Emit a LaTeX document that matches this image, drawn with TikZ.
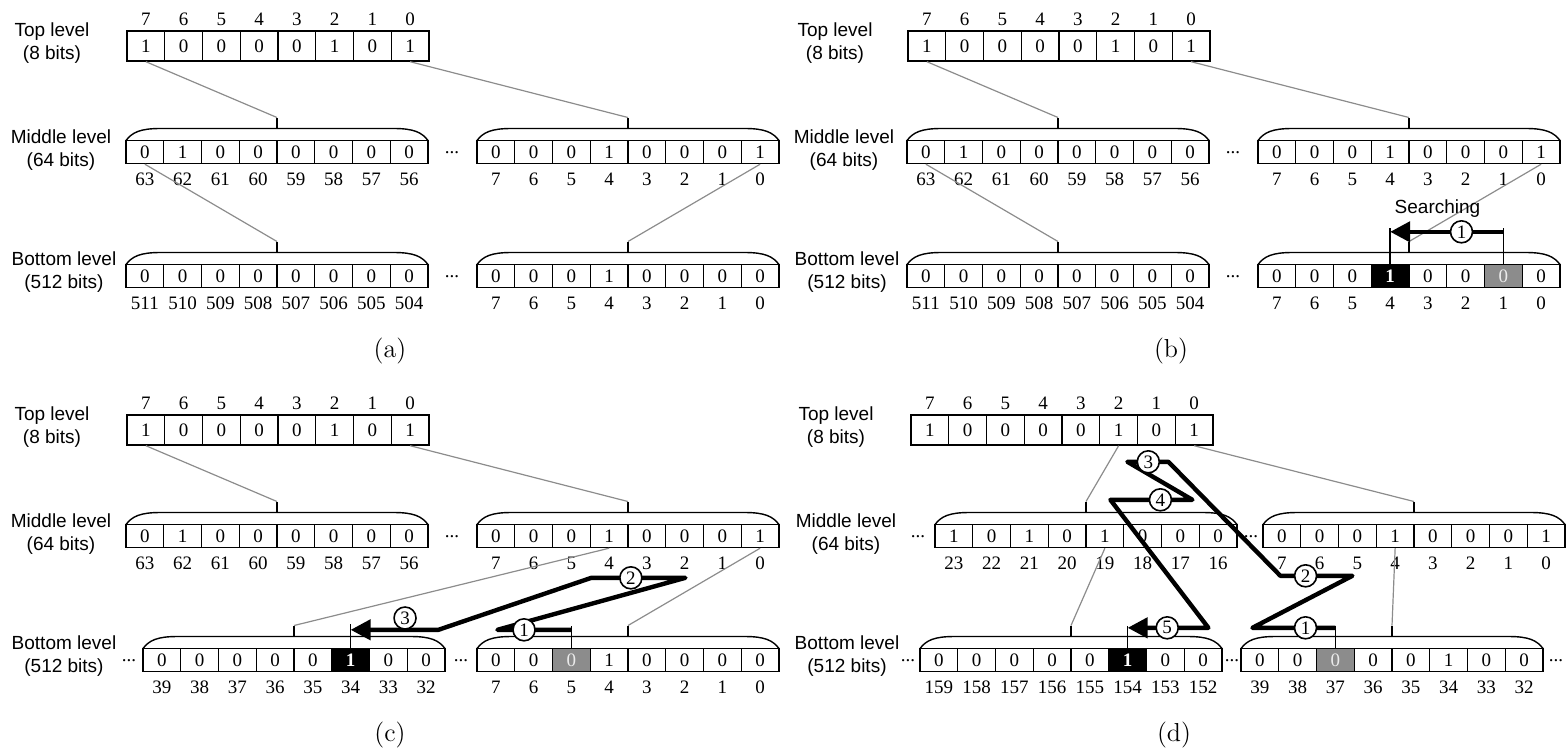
\documentclass[tikz,border=0pt]{standalone}
\usepackage{fontspec}
\usepackage{tikz}
\usetikzlibrary{arrows.meta,positioning}
\newfontfamily\numfont{Liberation Serif}
\newfontfamily\lblfont{Liberation Sans}
\newcommand\cellfont{\numfont\fontsize{9.5}{11}\selectfont}
\newcommand\sidefont{\lblfont\fontsize{9.5}{11.5}\selectfont}
\tikzset{
  cell/.style={draw,line width=.7pt,minimum width=18.875pt,minimum height=#1*.5pt,
               inner sep=0pt,font=\cellfont},
  kind/.style={bit#1},
  bitw/.style={},
  bitk/.style={fill=black,text=white,font=\cellfont\bfseries},
  bitg/.style={fill=black!45,text=black!8},
  idx/.style={inner sep=0pt,font=\cellfont},
  lvl/.style={align=center,inner sep=0pt,font=\sidefont},
  ellip/.style={inner sep=0pt,font=\cellfont},
  capline/.style={line width=.7pt},
  link/.style={draw=black!45,line width=.6pt},
  pinline/.style={line width=.7pt},
  search/.style={line width=2.2pt,line join=round,-{Triangle[length=10pt,width=10pt]}},
  stepmark/.style={circle,draw,line width=.8pt,fill=white,inner sep=0pt,
                   minimum size=11pt,font=\cellfont},
  subcap/.style={font=\fontsize{13}{15}\selectfont},
}
\newcommand{\bitrow}[6]{%
  \foreach \st/\bt/\ix [count=\kk from 0] in {#5}{%
    \node[cell=#4,kind/.expanded=\st] (#1-\kk) at ({#2+(\kk+.5)*37.75},{#3+#4/2}) {\bt};
    \node[idx] (#1-i\kk) at ([yshift=#6]#1-\kk.center) {\ix};
  }}
\newcommand{\regcap}[3]{%
  \draw[capline] ({#2},{#3}) .. controls ({#2+6},{#3-8}) and ({#2+14},{#3-12}) .. ({#2+34},{#3-12})
    -- ({#2+268},{#3-12}) .. controls ({#2+288},{#3-12}) and ({#2+296},{#3-8}) .. ({#2+302},{#3});
  \draw[capline] ({#2+151},{#3-12}) -- ({#2+151},{#3-23}) coordinate (#1-tip);
}
\newcommand{\lowrow}[4]{\regcap{#1}{#2}{#3}\bitrow{#1}{#2}{#3}{23}{#4}{-13.5pt}}

\begin{document}
\begin{tikzpicture}[x=0.5pt,y=-0.5pt]
  \useasboundingbox (0,0) rectangle (1566,752);

  \begin{scope}
    \node[lvl] (aTl) at (52,43) {Top level\\(8 bits)};
    \bitrow{aT}{127}{31}{30}{w/1/7,w/0/6,w/0/5,w/0/4,w/0/3,w/1/2,w/0/1,w/1/0}{13.5pt}
    \node[lvl] (aMl) at (61,150) {Middle level\\(64 bits)};
    \lowrow{aML}{126}{140.5}{w/0/63,w/1/62,w/0/61,w/0/60,w/0/59,w/0/58,w/0/57,w/0/56}
    \node[ellip] (aMd) at (452,153) {...};
    \lowrow{aMR}{477}{140.5}{w/0/7,w/0/6,w/0/5,w/1/4,w/0/3,w/0/2,w/0/1,w/1/0}
    \node[lvl] (aBl) at (64,272) {Bottom level\\(512 bits)};
    \lowrow{aBL}{126}{264.5}{w/0/511,w/0/510,w/0/509,w/0/508,w/0/507,w/0/506,w/0/505,w/0/504}
    \node[ellip] (aBd) at (452,277) {...};
    \lowrow{aBR}{477}{264.5}{w/0/7,w/0/6,w/0/5,w/1/4,w/0/3,w/0/2,w/0/1,w/0/0}
    \draw[link] (aT-0.south) -- (aML-tip);
    \draw[link] (aT-7.south) -- (aMR-tip);
    \draw[link] (aML-0.south) -- (aBL-tip);
    \draw[link] (aMR-7.south) -- (aBR-tip);
    \node[subcap] (acap) at (390,351) {(a)};
  \end{scope}

  \begin{scope}[shift={(781,0)}]
    \node[lvl] (bTl) at (54,43) {Top level\\(8 bits)};
    \bitrow{bT}{127}{31}{30}{w/1/7,w/0/6,w/0/5,w/0/4,w/0/3,w/1/2,w/0/1,w/1/0}{13.5pt}
    \node[lvl] (bMl) at (63,150) {Middle level\\(64 bits)};
    \lowrow{bML}{126}{140.5}{w/0/63,w/1/62,w/0/61,w/0/60,w/0/59,w/0/58,w/0/57,w/0/56}
    \node[ellip] (bMd) at (452,153) {...};
    \lowrow{bMR}{477}{140.5}{w/0/7,w/0/6,w/0/5,w/1/4,w/0/3,w/0/2,w/0/1,w/1/0}
    \node[lvl] (bBl) at (66,272) {Bottom level\\(512 bits)};
    \lowrow{bBL}{126}{264.5}{w/0/511,w/0/510,w/0/509,w/0/508,w/0/507,w/0/506,w/0/505,w/0/504}
    \node[ellip] (bBd) at (452,277) {...};
    \lowrow{bBR}{477}{264.5}{w/0/7,w/0/6,w/0/5,k/1/4,w/0/3,w/0/2,g/0/1,w/0/0}
    \draw[link] (bT-0.south) -- (bML-tip);
    \draw[link] (bT-7.south) -- (bMR-tip);
    \draw[link] (bML-0.south) -- (bBL-tip);
    \draw[link] (bMR-7.south) -- (bBR-tip);
    \draw[pinline] (bBR-6.north) -- ++(0,-36);
    \draw[pinline] (bBR-3.north) -- ++(0,-36);
    \draw[search] ([yshift=16pt]bBR-6.north) -- node[stepmark,pos=.37](bS1){1} ([yshift=16pt]bBR-3.north);
    \node[lvl,above=1pt of bS1,xshift=-12pt] (bSl) {Searching};
    \node[subcap] (bcap) at (390,351) {(b)};
  \end{scope}

  \begin{scope}[shift={(0,384)}]
    \node[lvl] (cTl) at (52,43) {Top level\\(8 bits)};
    \bitrow{cT}{127}{31}{30}{w/1/7,w/0/6,w/0/5,w/0/4,w/0/3,w/1/2,w/0/1,w/1/0}{13.5pt}
    \node[lvl] (cMl) at (61,150) {Middle level\\(64 bits)};
    \lowrow{cML}{126}{140.5}{w/0/63,w/1/62,w/0/61,w/0/60,w/0/59,w/0/58,w/0/57,w/0/56}
    \node[ellip] (cMd) at (452,153) {...};
    \lowrow{cMR}{477}{140.5}{w/0/7,w/0/6,w/0/5,w/1/4,w/0/3,w/0/2,w/0/1,w/1/0}
    \node[lvl] (cBl) at (64,272) {Bottom level\\(512 bits)};
    \node[ellip] (cBd0) at (129,277) {...};
    \lowrow{cBL}{143}{264.5}{w/0/39,w/0/38,w/0/37,w/0/36,w/0/35,k/1/34,w/0/33,w/0/32}
    \node[ellip] (cBd) at (461,277) {...};
    \lowrow{cBR}{477}{264.5}{w/0/7,w/0/6,g/0/5,w/1/4,w/0/3,w/0/2,w/0/1,w/0/0}
    \draw[link] (cT-0.south) -- (cML-tip);
    \draw[link] (cT-7.south) -- (cMR-tip);
    \draw[link] (cMR-3.south) -- (cBL-tip);
    \draw[link] (cMR-7.south) -- (cBR-tip);
    \draw[pinline] (cBR-2.north) -- ++(0,-22);
    \draw[pinline] (cBL-5.north) -- ++(0,-24);
    \draw[search] ([yshift=9pt]cBR-2.north) -- node[stepmark,pos=.64]{1} ++(-74,0)
      -- ++(188,-52) -- node[stepmark,pos=.58]{2} ++(-94,0)
      -- ++(-153,52) -- node[stepmark,above,pos=.38]{3} ([yshift=9pt]cBL-5.north);
    \node[subcap] (ccap) at (390,351) {(c)};
  \end{scope}

  \begin{scope}[shift={(784,384)}]
    \node[lvl] (dTl) at (52,43) {Top level\\(8 bits)};
    \bitrow{dT}{127}{31}{30}{w/1/7,w/0/6,w/0/5,w/0/4,w/0/3,w/1/2,w/0/1,w/1/0}{13.5pt}
    \node[lvl] (dMl) at (62,150) {Middle level\\(64 bits)};
    \node[ellip] (dMd0) at (134,153) {...};
    \lowrow{dML}{151}{140.5}{w/1/23,w/0/22,w/1/21,w/0/20,w/1/19,w/0/18,w/0/17,w/0/16}
    \node[ellip] (dMd) at (467,153) {...};
    \lowrow{dMR}{479}{140.5}{w/0/7,w/0/6,w/0/5,w/1/4,w/0/3,w/0/2,w/0/1,w/1/0}
    \node[lvl] (dBl) at (63,272) {Bottom level\\(512 bits)};
    \node[ellip] (dBd0) at (124,277) {...};
    \lowrow{dBL}{136}{264.5}{w/0/159,w/0/158,w/0/157,w/0/156,w/0/155,k/1/154,w/0/153,w/0/152}
    \node[ellip] (dBd) at (448,277) {...};
    \lowrow{dBR}{457}{264.5}{w/0/39,w/0/38,g/0/37,w/0/36,w/0/35,w/1/34,w/0/33,w/0/32}
    \node[ellip] (dBd2) at (772,277) {...};
    \draw[link] (dT-5.south) -- (dML-tip);
    \draw[link] (dT-7.south) -- (dMR-tip);
    \draw[link] (dML-4.south) -- (dBL-tip);
    \draw[link] (dMR-3.south) -- (dBR-tip);
    \draw[pinline] (dBR-2.north) -- ++(0,-22);
    \draw[pinline] (dBL-5.north) -- ++(0,-22);
    \draw[search] ([yshift=10pt]dBR-2.north) -- node[stepmark,pos=.36]{1} ++(-83,0)
      -- ++(100,-52) -- node[stepmark,pos=.65]{2} ++(-72,0)
      -- ++(-112,-114) -- node[stepmark,pos=.49]{3} ++(-41,0)
      -- ++(65,38) -- node[stepmark,pos=.39]{4} ++(-82,0)
      -- ++(98,128) -- node[stepmark,pos=.51]{5} ([yshift=10pt]dBL-5.north);
    \node[subcap] (dcap) at (390,351) {(d)};
  \end{scope}
\end{tikzpicture}
\end{document}
